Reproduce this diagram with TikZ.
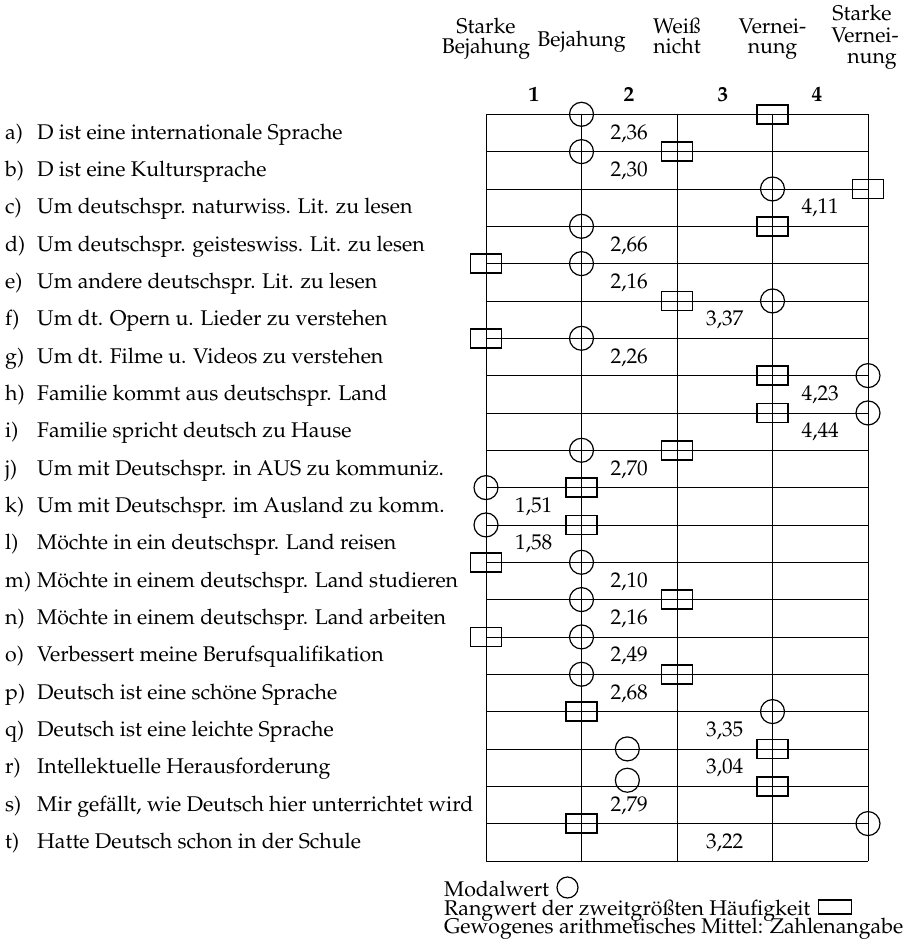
\documentclass[tikz,border=0pt]{standalone}
\usepackage[T1]{fontenc}
\usepackage{mathpazo}
\begin{document}
\begin{tikzpicture}[x=1pt,y=-1pt,
  font=\fontsize{21.3}{24}\selectfont,
  gridline/.style={line width=0.8pt},
  modal/.style={circle, draw, line width=1.2pt, minimum size=24pt, inner sep=0pt},
  rang/.style={rectangle, draw, line width=1.8pt, minimum width=31pt, minimum height=19pt, inner sep=0pt},
  txt/.style={anchor=base, inner sep=0pt},
  ltxt/.style={anchor=base west, inner sep=0pt},
  legtxt/.style={anchor=base west, inner sep=0pt, font=\fontsize{21.3}{24}\selectfont}]
\useasboundingbox (0,0) rectangle (905,945);
% grid
\foreach \k in {0,...,4} \draw[gridline] ({486+95.5*\k},114.3) -- ({486+95.5*\k},861);
\foreach \i in {0,...,20} \draw[gridline] (486,{114.3+37.33*\i}) -- (868,{114.3+37.33*\i});
% headers
\node[txt] (h0a) at (486,33.3) {Starke};
\node[txt] (h0b) at (486,53.3) {Bejahung};
\node[txt] (h1) at (581.5,46) {Bejahung};
\node[txt] (h2a) at (677,33.3) {Wei\ss};
\node[txt] (h2b) at (677,53.3) {nicht};
\node[txt] (h3a) at (772.5,33.3) {Vernei-};
\node[txt] (h3b) at (772.5,53.3) {nung};
\node[txt] (h4a) at (862,20) {Starke};
\node[txt] (h4b) at (865,42) {Vernei-};
\node[txt] (h4c) at (872,63) {nung};
\foreach \n/\x in {1/534,2/629,3/723,4/817} \node[txt,font=\fontsize{21.3}{24}\selectfont\bfseries] (n\n) at (\x,101.7) {\n};
% row labels
\foreach \lab/\t [count=\i from 0] in {
 a/{D ist eine internationale Sprache},
 b/{D ist eine Kultursprache},
 c/{Um deutschspr. naturwiss. Lit. zu lesen},
 d/{Um deutschspr. geisteswiss. Lit. zu lesen},
 e/{Um andere deutschspr. Lit. zu lesen},
 f/{Um dt. Opern u. Lieder zu verstehen},
 g/{Um dt. Filme u. Videos zu verstehen},
 h/{Familie kommt aus deutschspr. Land},
 i/{Familie spricht deutsch zu Hause},
 j/{Um mit Deutschspr. in AUS zu kommuniz.},
 k/{Um mit Deutschspr. im Ausland zu komm.},
 l/{M\"ochte in ein deutschspr. Land reisen},
 m/{M\"ochte in einem deutschspr. Land studieren},
 n/{M\"ochte in einem deutschspr. Land arbeiten},
 o/{Verbessert meine Berufsqualifikation},
 p/{Deutsch ist eine sch\"one Sprache},
 q/{Deutsch ist eine leichte Sprache},
 r/{Intellektuelle Herausforderung},
 s/{Mir gef\"allt, wie Deutsch hier unterrichtet wird},
 t/{Hatte Deutsch schon in der Schule}}{
  \node[ltxt] (lab\i) at (5,{114.3+37.33*\i+25}) {\lab)};
  \node[ltxt] (item\i) at (37,{114.3+37.33*\i+25}) {\t};
}
% markers and values
\foreach \cp/\bp/\v/\vp/\cdy [count=\i from 0] in {
 1/3/{2,36}/1.5/0,
 1/2/{2,30}/1.5/0,
 3/4/{4,11}/3.5/0,
 1/3/{2,66}/1.5/0,
 1/0/{2,16}/1.5/0,
 3/2/{3,37}/2.5/0,
 1/0/{2,26}/1.5/0,
 4/3/{4,23}/3.5/0,
 4/3/{4,44}/3.5/0,
 1/2/{2,70}/1.5/0,
 0/1/{1,51}/0.5/0,
 0/1/{1,58}/0.5/0,
 1/0/{2,10}/1.5/0,
 1/2/{2,16}/1.5/0,
 1/0/{2,49}/1.5/0,
 1/2/{2,68}/1.5/0,
 3/1/{3,35}/2.5/0,
 1.48/3/{3,04}/2.5/0,
 1.48/3/{2,79}/1.5/6,
 4/1/{3,22}/2.5/0}{
  \node[modal] (c\i) at ({486+95.5*\cp},{114.3+37.33*\i-\cdy}) {};
  \node[rang] (b\i) at ({486+95.5*\bp},{114.3+37.33*\i}) {};
  \node[txt] (v\i) at ({486+95.5*\vp},{114.3+37.33*\i+25}) {\v};
}
% legend
\node[legtxt] (leg1) at (444,896.5) {Modalwert};
\node[modal, minimum size=21pt] (legc) at (567.5,887.5) {};
\node[legtxt] (leg2) at (444,915) {Rangwert der zweitgr\"o\ss ten H\"aufigkeit};
\node[rang, minimum width=33pt, minimum height=14pt] (legb) at (835,907) {};
\node[legtxt] (leg3) at (444,933.5) {Gewogenes arithmetisches Mittel: Zahlenangabe};
\end{tikzpicture}
\end{document}
